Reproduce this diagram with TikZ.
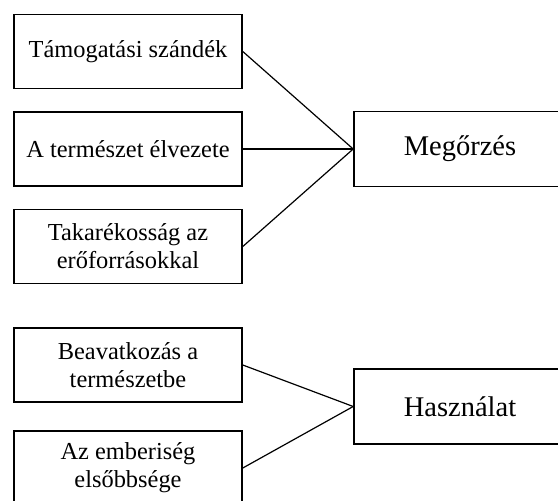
\documentclass[tikz,border=0pt]{standalone}
\usepackage{fontspec}
\setmainfont{Liberation Serif}
\usepackage{tikz}
\usetikzlibrary{positioning}

\begin{document}
\begin{tikzpicture}[x=1pt, y=-1pt,
  item/.style={draw, line width=1.6pt, minimum width=228pt, minimum height=74pt,
    align=center, font=\fontsize{24.4}{28}\selectfont},
  goal/.style={draw, line width=1.6pt, minimum width=212pt, minimum height=75pt,
    font=\fontsize{28.5}{32}\selectfont},
  link/.style={line width=1.2pt}]
\useasboundingbox (0,0) rectangle (558,501);
\clip (0,0) rectangle (558,501);
% upper group
\node[item] (tam) at (128,51.5) {Támogatási szándék};
\node[item] (elv) at (128,149) {A természet élvezete};
\node[item] (tak) at (128,246.5) {Takarékosság az\\erőforrásokkal};
\node[goal] (meg) at (460,149) {Megőrzés};
% lower group
\node[item] (bea) at (128,365) {Beavatkozás a\\természetbe};
\node[item] (emb) at (128,468) {Az emberiség\\elsőbbsége};
\node[goal] (has) at (460,406.5) {Használat};
\draw[link] (tam.east) -- (meg.west);
\draw[link] (elv.east) -- (meg.west);
\draw[link] (tak.east) -- (meg.west);
\draw[link] (bea.east) -- (has.west);
\draw[link] (emb.east) -- (has.west);
\end{tikzpicture}
\end{document}
